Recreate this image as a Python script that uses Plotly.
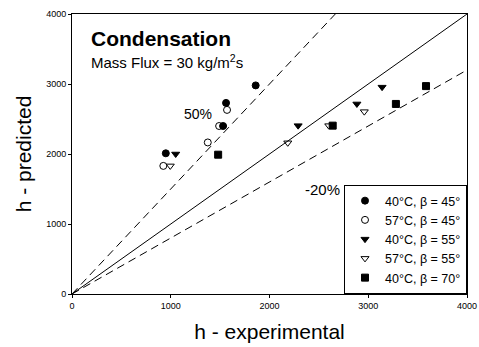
import plotly.graph_objects as go

# data
labels = ["40°C, β = 45°", "57°C, β = 45°", "40°C, β = 55°", "57°C, β = 55°", "40°C, β = 70°"]
x_40_45 = [950, 1530, 1560, 1860]
y_40_45 = [2010, 2400, 2730, 2980]
x_57_45 = [925, 1375, 1490, 1570]
y_57_45 = [1830, 2165, 2400, 2630]
x_40_55 = [1050, 2290, 2885, 3140]
y_40_55 = [2000, 2405, 2715, 2955]
x_57_55 = [995, 2185, 2600, 2960]
y_57_55 = [1830, 2160, 2405, 2605]
x_40_70 = [1480, 2640, 3280, 3585]
y_40_70 = [1990, 2405, 2715, 2970]

line_x = [0, 4000]
factor_equal = 1.0
factor_plus50 = 1.5
factor_minus20 = 0.8
ticks = [0, 1000, 2000, 3000, 4000]

FONT = "Arial, Liberation Sans, sans-serif"

series = [
    (x_40_45, y_40_45, "circle"),
    (x_57_45, y_57_45, "circle-open"),
    (x_40_55, y_40_55, "triangle-down"),
    (x_57_55, y_57_55, "triangle-down-open"),
    (x_40_70, y_40_70, "square"),
]

fig = go.Figure()

# reference lines
fig.add_trace(go.Scatter(x=line_x, y=[v * factor_equal for v in line_x], mode="lines",
                         line=dict(color="black", width=1), showlegend=False, hoverinfo="skip"))
fig.add_trace(go.Scatter(x=line_x, y=[v * factor_plus50 for v in line_x], mode="lines",
                         line=dict(color="black", width=1, dash="8px,5px"), showlegend=False, hoverinfo="skip"))
fig.add_trace(go.Scatter(x=line_x, y=[v * factor_minus20 for v in line_x], mode="lines",
                         line=dict(color="black", width=1, dash="8px,5px"), showlegend=False, hoverinfo="skip"))

for (xs, ys, sym), lab in zip(series, labels):
    fig.add_trace(go.Scatter(x=xs, y=ys, mode="markers", name=lab,
                             marker=dict(symbol=sym, size=7, color="black",
                                         line=dict(color="black", width=1))))

fig.update_layout(
    width=479, height=347,
    margin=dict(l=72, r=12, t=14, b=53),
    paper_bgcolor="white", plot_bgcolor="white",
    font=dict(family=FONT, color="black"),
    legend=dict(x=1, y=0, xanchor="right", yanchor="bottom",
                bordercolor="black", borderwidth=1, bgcolor="white",
                font=dict(size=12.5, family=FONT), itemwidth=30,
                tracegroupgap=0),
    xaxis=dict(range=[0, 4000], tickvals=ticks, showgrid=False, zeroline=False,
               showline=True, linecolor="black", linewidth=1, mirror=True,
               ticks="outside", ticklen=3, tickcolor="black", automargin=False,
               tickfont=dict(size=9, family=FONT),
               title=dict(text="h - experimental", font=dict(size=21, family=FONT), standoff=14)),
    yaxis=dict(range=[0, 4000], tickvals=ticks, showgrid=False, zeroline=False,
               showline=True, linecolor="black", linewidth=1, mirror=True,
               ticks="outside", ticklen=3, tickcolor="black", automargin=False,
               tickfont=dict(size=9, family=FONT),
               title=dict(text="h - predicted", font=dict(size=21, family=FONT), standoff=8)),
    annotations=[
        dict(x=0.043, y=0.913, xref="paper", yref="paper", xanchor="left", yanchor="middle",
             text="<b>Condensation</b>", showarrow=False, font=dict(size=21, family=FONT)),
        dict(x=0.043, y=0.83, xref="paper", yref="paper", xanchor="left", yanchor="middle",
             text="Mass Flux = 30 kg/m<sup>2</sup>s", showarrow=False, font=dict(size=15, family=FONT)),
        dict(x=1280, y=2575, xref="x", yref="y", xanchor="center", yanchor="middle",
             text="50%", showarrow=False, font=dict(size=14, family=FONT)),
        dict(x=2540, y=1500, xref="x", yref="y", xanchor="center", yanchor="middle",
             text="-20%", showarrow=False, font=dict(size=15, family=FONT)),
    ],
)

fig.write_html("out.html")
